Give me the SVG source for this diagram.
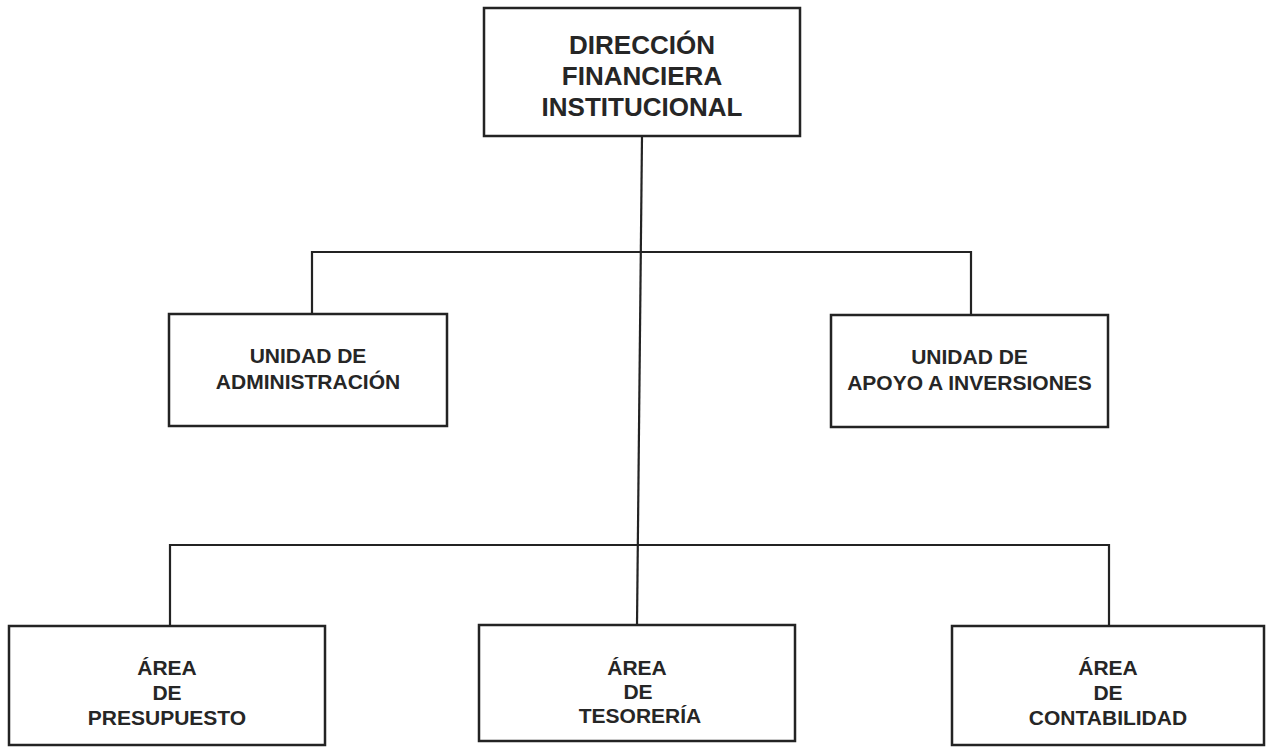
<svg xmlns="http://www.w3.org/2000/svg" width="1268" height="747" viewBox="0 0 1268 747">
<style>
.box{fill:#fff;stroke:#232323;stroke-width:2.5}
.ln{fill:none;stroke:#232323;stroke-width:2.2}
text{font-family:"Liberation Sans",Arial,sans-serif;font-weight:bold;fill:#262626;text-anchor:middle}
.t1{font-size:26px}
.t2{font-size:21px}
</style>
<rect width="1268" height="747" fill="#fff"/>
<g id="connectors">
<path class="ln" d="M642,136 L637,625"/>
<path class="ln" d="M312,314 V252 H971 V315"/>
<path class="ln" d="M170,626 V545 H1109 V626"/>
</g>
<g id="direccion">
<rect class="box" x="484" y="8" width="316" height="128"/>
<text class="t1" x="642" y="54">DIRECCIÓN</text>
<text class="t1" x="642" y="85">FINANCIERA</text>
<text class="t1" x="642" y="116">INSTITUCIONAL</text>
</g>
<g id="administracion">
<rect class="box" x="169" y="314" width="278" height="112"/>
<text class="t2" x="308" y="363">UNIDAD DE</text>
<text class="t2" x="308" y="389">ADMINISTRACIÓN</text>
</g>
<g id="inversiones">
<rect class="box" x="831" y="315" width="277" height="112"/>
<text class="t2" x="969.5" y="364">UNIDAD DE</text>
<text class="t2" x="969.5" y="390">APOYO A INVERSIONES</text>
</g>
<g id="presupuesto">
<rect class="box" x="9" y="626" width="316" height="119"/>
<text class="t2" x="167" y="675">ÁREA</text>
<text class="t2" x="167" y="700">DE</text>
<text class="t2" x="167" y="725">PRESUPUESTO</text>
</g>
<g id="tesoreria">
<rect class="box" x="479" y="625" width="316" height="116"/>
<text class="t2" x="637" y="675">ÁREA</text>
<text class="t2" x="638" y="699">DE</text>
<text class="t2" x="640" y="723">TESORERÍA</text>
</g>
<g id="contabilidad">
<rect class="box" x="952" y="626" width="312" height="119"/>
<text class="t2" x="1108" y="675">ÁREA</text>
<text class="t2" x="1108" y="700">DE</text>
<text class="t2" x="1108" y="725">CONTABILIDAD</text>
</g>
</svg>
